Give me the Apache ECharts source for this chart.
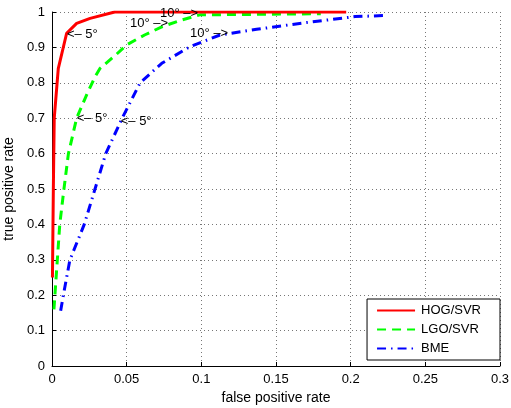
<!DOCTYPE html>
<html>
<head>
<meta charset="utf-8">
<script src="https://cdn.jsdelivr.net/npm/echarts@6/dist/echarts.min.js"></script>
<style>
  html, body { margin: 0; padding: 0; background: #fff; }
  #roc { width: 511px; height: 408px; }
</style>
</head>
<body>
<div id="roc"></div>
<script>
var roc = echarts.init(document.getElementById('roc'));

// curves: [false positive rate, true positive rate]
var hog_svr = [[0.0003, 0.25], [0.0009, 0.5], [0.0015, 0.7], [0.0042, 0.84], [0.0098, 0.94],
    [0.0165, 0.968], [0.0255, 0.982], [0.042, 1.0], [0.197, 1.0]];
var lgo_svr = [[0.0013, 0.16], [0.0052, 0.4], [0.008, 0.5], [0.011, 0.6], [0.0165, 0.7],
    [0.0232, 0.766], [0.0288, 0.817], [0.032, 0.84], [0.0433, 0.881], [0.05, 0.907],
    [0.062, 0.935], [0.0735, 0.958], [0.085, 0.975], [0.099, 0.992], [0.18, 0.995]];
var bme = [[0.0058, 0.156], [0.0076, 0.2], [0.012, 0.3], [0.0216, 0.4], [0.0288, 0.5],
    [0.036, 0.6], [0.047, 0.7], [0.059, 0.8], [0.0735, 0.855], [0.0924, 0.902],
    [0.1125, 0.935], [0.137, 0.951], [0.17, 0.97], [0.203, 0.987], [0.223, 0.99]];

var series_names = ['HOG/SVR', 'LGO/SVR', 'BME'];

// angle annotations
var notes_right = [[0.010, 0.938, '<– 5°'], [0.0165, 0.70, '<– 5°'], [0.046, 0.69, '<– 5°']];
var notes_left = [[0.0777, 0.968, '10° –>'], [0.0978, 0.996, '10° –>'], [0.118, 0.94, '10° –>']];

var x_ticks = { min: 0, max: 0.3, interval: 0.05 };
var y_ticks = { min: 0, max: 1, interval: 0.1 };

var font = 'Liberation Sans';

function note_series(notes, pos) {
    return {
        type: 'scatter',
        symbolSize: 0,
        silent: true,
        z: 5,
        itemStyle: { opacity: 1 },
        data: notes.map(function (n) { return { value: [n[0], n[1]], name: n[2] }; }),
        label: {
            show: true,
            position: pos,
            distance: 0,
            formatter: '{b}',
            color: '#000',
            opacity: 1,
            fontFamily: font,
            fontSize: 13
        }
    };
}

var roc_option = {
    animation: false,
    backgroundColor: '#fff',
    grid: { left: 52, right: 11, top: 12, bottom: 42, containLabel: false, outerBoundsMode: 'none' },
    legend: {
        orient: 'vertical',
        right: 11,
        top: 299,
        data: series_names,
        backgroundColor: '#fff',
        borderColor: '#000',
        borderWidth: 1,
        padding: [5, 19, 5, 9],
        itemWidth: 38,
        itemHeight: 14,
        itemGap: 6,
        itemStyle: { opacity: 0 },
        textStyle: { color: '#000', fontFamily: font, fontSize: 13, padding: [0, 0, 0, 1] }
    },
    xAxis: {
        type: 'value',
        min: x_ticks.min,
        max: x_ticks.max,
        interval: x_ticks.interval,
        name: 'false positive rate',
        nameLocation: 'middle',
        nameGap: 25,
        nameTextStyle: { color: '#000', fontFamily: font, fontSize: 14 },
        axisLine: { lineStyle: { color: '#000', width: 1 } },
        axisTick: { inside: true, length: 4, lineStyle: { color: '#000' } },
        axisLabel: { color: '#000', fontFamily: font, fontSize: 13, margin: 7 },
        splitLine: { show: true, lineStyle: { color: '#777', type: [1, 3] } }
    },
    yAxis: {
        type: 'value',
        min: y_ticks.min,
        max: y_ticks.max,
        interval: y_ticks.interval,
        name: 'true positive rate',
        nameLocation: 'middle',
        nameGap: 31,
        nameTextStyle: { color: '#000', fontFamily: font, fontSize: 14 },
        axisLine: { show: true, lineStyle: { color: '#000', width: 1 } },
        axisTick: { show: true, inside: true, length: 4, lineStyle: { color: '#000' } },
        axisLabel: { color: '#000', fontFamily: font, fontSize: 13, margin: 7 },
        splitLine: { show: true, lineStyle: { color: '#777', type: [1, 3] } }
    },
    series: [
        {
            name: series_names[0],
            type: 'line',
            symbol: 'none',
            z: 4,
            data: hog_svr,
            itemStyle: { color: '#ff0000' },
            lineStyle: { color: '#ff0000', width: 3 }
        },
        {
            name: series_names[1],
            type: 'line',
            symbol: 'none',
            z: 3,
            data: lgo_svr,
            itemStyle: { color: '#00ff00' },
            lineStyle: { color: '#00ff00', width: 3, type: [9, 6] }
        },
        {
            name: series_names[2],
            type: 'line',
            symbol: 'none',
            z: 3,
            data: bme,
            itemStyle: { color: '#0000ff' },
            lineStyle: { color: '#0000ff', width: 3, type: [9, 5, 1.5, 5] }
        },
        note_series(notes_right, 'right'),
        note_series(notes_left, 'left')
    ]
};

roc.setOption(roc_option);
</script>
</body>
</html>
